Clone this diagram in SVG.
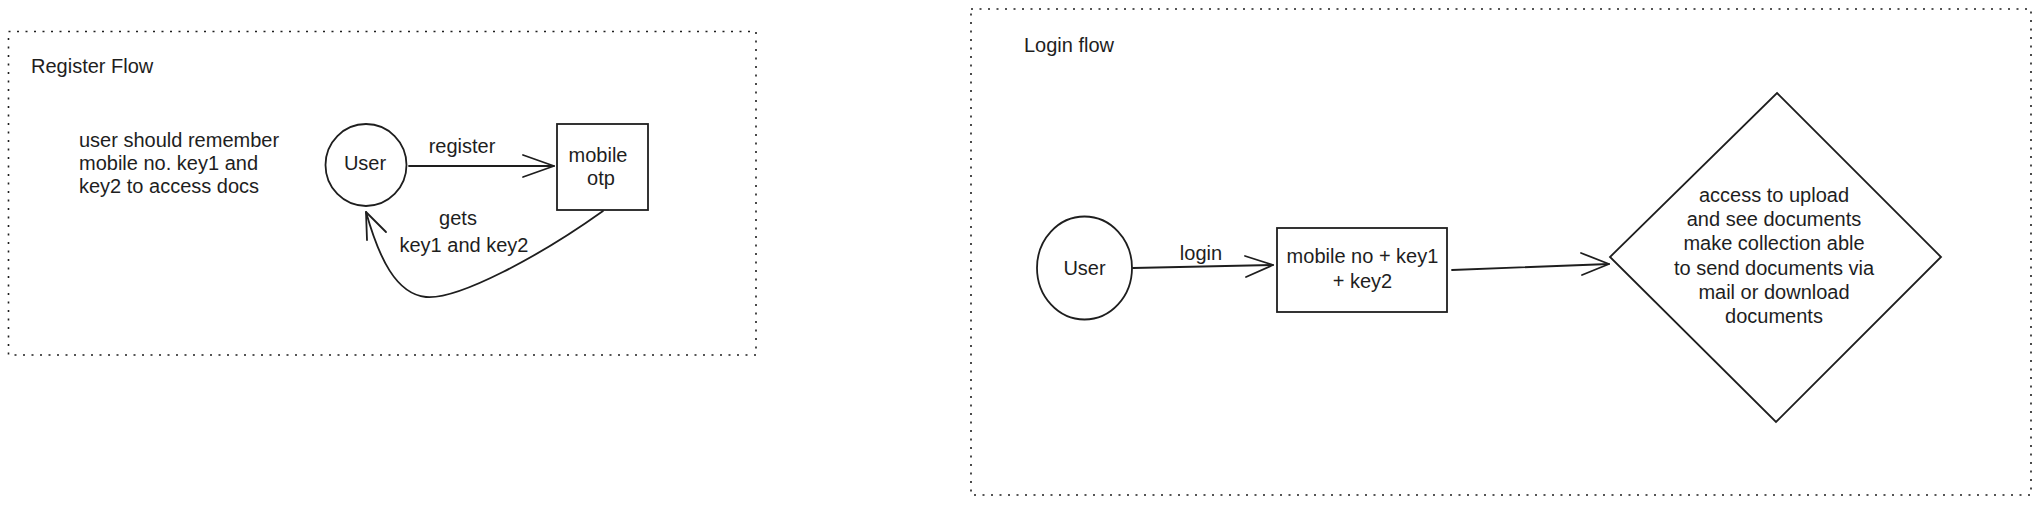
<svg xmlns="http://www.w3.org/2000/svg" width="2041" height="507" viewBox="0 0 2041 507">
<style>
  .frame { fill: none; stroke: #1e1e1e; stroke-width: 1.6; stroke-dasharray: 2 6.5; }
  .shape { fill: none; stroke: #1e1e1e; stroke-width: 1.8; }
  .edge { fill: none; stroke: #1e1e1e; stroke-width: 1.8; stroke-linecap: round; stroke-linejoin: round; }
  text { font-family: "Liberation Sans", Arial, sans-serif; fill: #1e1e1e; font-size: 20px; }
  .mid { text-anchor: middle; }
</style>
<rect width="2041" height="507" fill="#ffffff"/>

<g id="register-frame">
  <rect class="frame" x="8.5" y="31.5" width="747.5" height="323.5"/>
  <text x="31" y="73" font-size="22.5">Register Flow</text>
</g>

<g id="register-note">
  <text x="79" y="147" font-size="18.5">user should remember</text>
  <text x="79" y="170" font-size="18.5">mobile no. key1 and</text>
  <text x="79" y="193" font-size="18.5">key2 to access docs</text>
</g>

<g id="register-user">
  <ellipse class="shape" cx="366" cy="165" rx="40.5" ry="41"/>
  <text class="mid" x="365" y="170" font-size="21">User</text>
</g>

<g id="register-mobile-otp">
  <rect class="shape" x="557" y="124" width="91" height="86"/>
  <text class="mid" x="598" y="162" font-size="20">mobile</text>
  <text class="mid" x="601" y="185" font-size="20">otp</text>
</g>

<g id="login-frame">
  <rect class="frame" x="971" y="9" width="1060" height="486"/>
  <text x="1024" y="52" font-size="22">Login flow</text>
</g>

<g id="login-user">
  <ellipse class="shape" cx="1084.5" cy="268" rx="47.5" ry="51.5"/>
  <text class="mid" x="1084.5" y="275" font-size="21">User</text>
</g>

<g id="login-credentials">
  <rect class="shape" x="1277" y="228" width="170" height="84"/>
  <text class="mid" x="1362.5" y="263" font-size="20">mobile no + key1</text>
  <text class="mid" x="1362.5" y="288" font-size="20">+ key2</text>
</g>

<g id="login-access">
  <polygon class="shape" points="1777,93 1941,257 1776,422 1610,257"/>
  <text class="mid" x="1774" y="202" font-size="22.5">access to upload</text>
  <text class="mid" x="1774" y="226" font-size="22.5">and see documents</text>
  <text class="mid" x="1774" y="250" font-size="22.5">make collection able</text>
  <text class="mid" x="1774" y="275" font-size="22.5">to send documents via</text>
  <text class="mid" x="1774" y="299" font-size="22.5">mail or download</text>
  <text class="mid" x="1774" y="323" font-size="22.5">documents</text>
</g>

<g id="connectors">
  <g id="edge-register">
    <path class="edge" d="M409 166 L554 166"/>
    <path class="edge" d="M523 155 L554 166 L523 177"/>
    <text class="mid" x="462" y="153" font-size="21.5">register</text>
  </g>
  <g id="edge-gets-keys">
    <path class="edge" d="M603 211 C 540 256, 458 300, 426 297 C 396 294, 379 258, 366 212"/>
    <path class="edge" d="M367 240 L366 212 L386 232"/>
    <text class="mid" x="458" y="225" font-size="20">gets</text>
    <text class="mid" x="464" y="252" font-size="20">key1 and key2</text>
  </g>
  <g id="edge-login">
    <path class="edge" d="M1133 268 L1273 265"/>
    <path class="edge" d="M1245 256 L1273 265 L1246 277"/>
    <text class="mid" x="1201" y="260" font-size="20">login</text>
  </g>
  <g id="edge-access">
    <path class="edge" d="M1452 270 L1609 264"/>
    <path class="edge" d="M1581 253 L1609 264 L1582 275"/>
  </g>
</g>
</svg>
